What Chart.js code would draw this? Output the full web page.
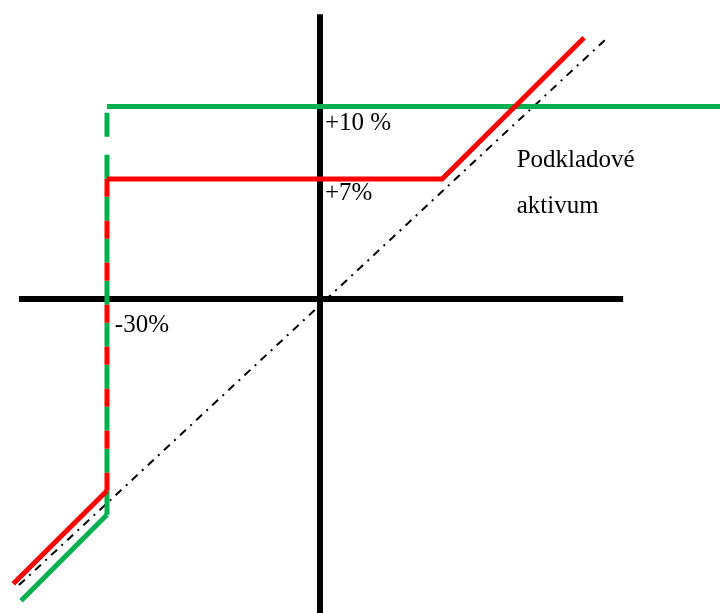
<!DOCTYPE html>
<html>
<head>
<meta charset="utf-8">
<script src="https://cdn.jsdelivr.net/npm/chart.js@4/dist/chart.umd.min.js"></script>
<style>
  html, body { margin: 0; padding: 0; background: #fff; }
  canvas { display: block; }
</style>
</head>
<body>
<canvas id="chart" width="720" height="613"></canvas>
<script>
// payoff schematic, values in % (not to scale)
const redX = [-43.2, -30, -30, 17.2, 37.2]
const redY = [-40.1, -27.0, 16.9, 16.9, 36.8]
const greenX = [-42.1, -30, -30, 60]
const greenY = [-42.5, -30.4, 27.1, 27.1]
const underlyingX = [-42.4, 40.7]
const underlyingY = [-40.3, 37.0]
const hAxisX = [-42.4, 42.7]
const vAxisY = [40.1, -46]

const labelTexts = ['+10 %', '+7%', '-30%', 'Podkladové', 'aktivum']
const labelX = [0.7, 0.7, -28.9, 27.7, 27.7]
const labelY = [23.8, 13.9, -4.6, 18.6, 12.1]

const pts = (xs, ys) => xs.map((x, i) => ({ x: x, y: ys[i] }))

// the vertical leg (-30 %) is dashed
const vertical = (dash) => ({
  borderDash: (ctx) => ctx.p0DataIndex === 1 ? dash : undefined
})

const labelsPlugin = {
  id: 'labels',
  afterDatasetsDraw(chart) {
    const { ctx, scales } = chart
    ctx.save()
    ctx.fillStyle = '#000'
    ctx.font = '25px "Liberation Serif", "Times New Roman", serif'
    ctx.textAlign = 'left'
    ctx.textBaseline = 'alphabetic'
    labelTexts.forEach((t, i) => {
      ctx.fillText(t, scales.x.getPixelForValue(labelX[i]), scales.y.getPixelForValue(labelY[i]))
    })
    ctx.restore()
  }
}

const common = { showLine: true, pointRadius: 0, pointHoverRadius: 0, tension: 0, fill: false }

new Chart(document.getElementById('chart'), {
  type: 'scatter',
  data: {
    datasets: [
      { ...common, label: 'red', order: 0, data: pts(redX, redY),
        borderColor: '#FF0000', borderWidth: 5, segment: vertical([18, 24]) },
      { ...common, label: 'green', order: 1, data: pts(greenX, greenY),
        borderColor: '#00B050', borderWidth: 5, segment: vertical([24, 18]) },
      { ...common, label: 'underlying', order: 2, data: pts(underlyingX, underlyingY),
        borderColor: '#000', borderWidth: 2, borderDash: [8, 6, 2, 6] },
      { ...common, label: 'xaxis', order: 3, data: pts(hAxisX, [0, 0]),
        borderColor: '#000', borderWidth: 6 },
      { ...common, label: 'yaxis', order: 3, data: pts([0, 0], vAxisY),
        borderColor: '#000', borderWidth: 6 }
    ]
  },
  options: {
    responsive: false,
    animation: false,
    devicePixelRatio: 1,
    layout: { padding: 0 },
    scales: {
      x: { type: 'linear', min: -45.07, max: 56.34, display: false },
      y: { type: 'linear', min: -44.23, max: 42.11, display: false }
    },
    plugins: {
      legend: { display: false },
      tooltip: { enabled: false }
    }
  },
  plugins: [labelsPlugin]
})
</script>
</body>
</html>
